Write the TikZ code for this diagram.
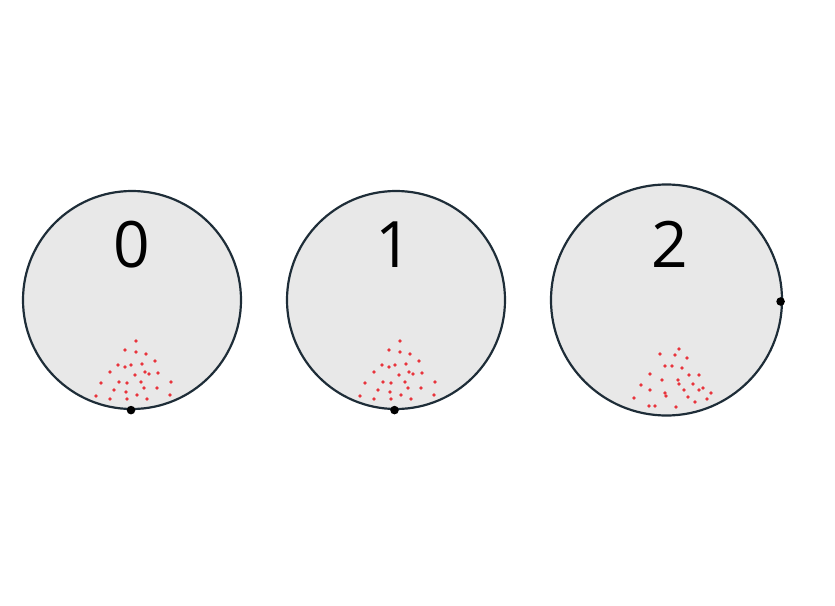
\documentclass[tikz,border=0pt]{standalone}
\usepackage{fontspec}
\usepackage{tikz}
\newfontfamily\digitfont{Open Sans}

\definecolor{rimcol}{HTML}{1E2D38}
\definecolor{diskcol}{HTML}{E8E8E8}
\definecolor{grain}{HTML}{E8343C}

\tikzset{
  disk/.style={circle, draw=rimcol, fill=diskcol, line width=2.2pt, inner sep=0pt},
  digit/.style={inner sep=0pt, font=\digitfont\fontsize{64}{64}\selectfont},
}

\begin{document}
\begin{tikzpicture}[x=1pt, y=-1pt]
   \useasboundingbox (0,0) rectangle (835,605);

   \node(C0)[disk, minimum size=218pt] at (132,300) {};
   \node(C1)[disk, minimum size=218pt] at (396,300) {};
   \node(C2)[disk, minimum size=231pt] at (666.5,300) {};

   \node(L0)[digit] at (132,244.5) {0};
   \node(L1)[digit] at (394,244.5) {1};
   \node(L2)[digit] at (670,244.5) {2};

   % grains, same heap in the first two
   \foreach \c in {C0, C1}
     \foreach \dx/\dy in {4/41, -7/50, 4/52, 14/54, 23/61, -14/65, -7/67, -1/65,
                          10/64, -22/72, 3/75, 13/72, 17/74, 26/73, -31/83,
                          -13/82, -5/83, 9/82, 39/82, -18/90, -6/92, 12/88,
                          25/88, -36/96, 5/95, 38/95, -22/99, -5/99, 15/99}
       \fill[grain] ([shift={(\dx,\dy)}]\c.center) circle (1.9);

   \foreach \x/\y in {679/349, 660/354, 675/355, 687/358, 665/366, 672/366,
                      682/368, 650/374, 689/375, 699/375, 662/380, 678/380,
                      641/385, 679/384, 693/384, 650/390, 665/393, 666/396,
                      684/390, 699/390, 703/388, 711/393, 634/398, 688/397,
                      707/399, 695/402, 649/406, 655/406, 676/407}
     \fill[grain] (\x,\y) circle (1.9);

   \fill ([xshift=-1pt]C0.south) circle (4.3);
   \fill ([xshift=-1.5pt]C1.south) circle (4.3);
   \begin{scope}
     \clip (0,0) rectangle (785,605);
     \fill ([shift={(-2.5,1.5)}]C2.east) circle (4.3);
   \end{scope}
  \end{tikzpicture}
\end{document}
